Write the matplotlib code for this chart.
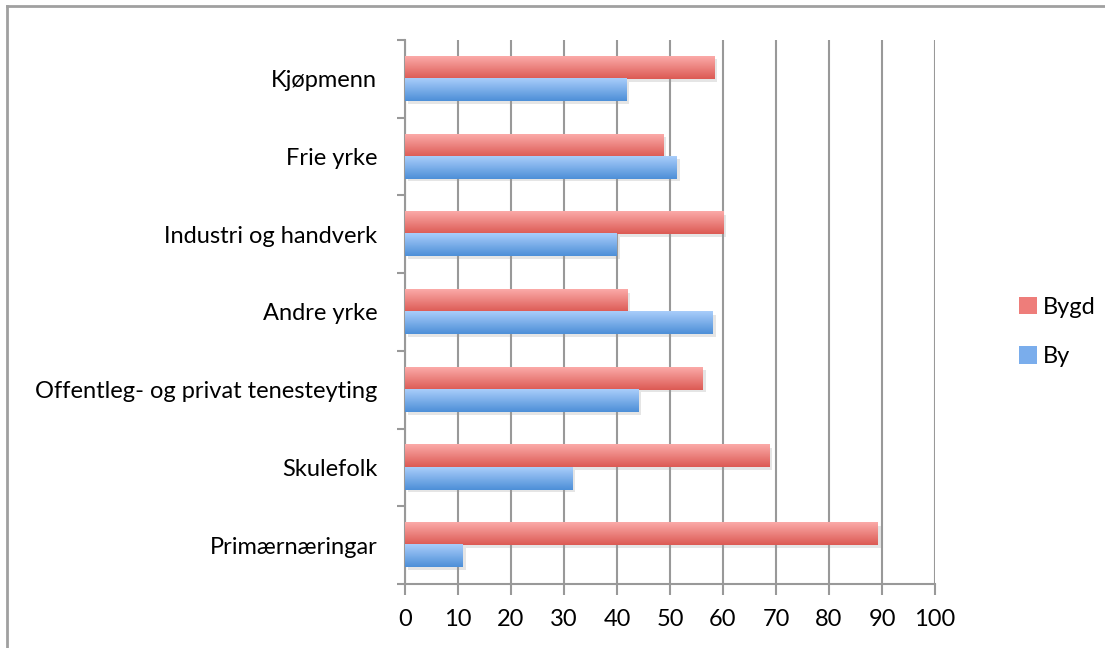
import numpy as np
import matplotlib.pyplot as plt
import matplotlib.patheffects as pe
from matplotlib.colors import LinearSegmentedColormap
from matplotlib.lines import Line2D
from matplotlib.patches import Rectangle

plt.rcParams['font.family'] = ['Lato', 'DejaVu Sans']

categories = ['Primærnæringar', 'Skulefolk', 'Offentleg- og privat tenesteyting',
              'Andre yrke', 'Industri og handverk', 'Frie yrke', 'Kjøpmenn']
bygd = [89.2, 68.7, 56.2, 42.0, 60.1, 48.8, 58.4]
by = [10.9, 31.6, 44.0, 58.1, 40.0, 51.3, 41.7]

red_top, red_bot = '#fbaaa8', '#dc5a54'
blue_top, blue_bot = '#a9cdfa', '#4d8fd8'

fig = plt.figure(figsize=(11.05, 6.48), dpi=100)
ax = fig.add_axes([405 / 1105, 1 - 584 / 648, 530 / 1105, 544 / 648])

y = np.arange(len(categories))
h = 0.285
bars_bygd = ax.barh(y + h / 2, bygd, height=h, color=red_bot, zorder=3)
bars_by = ax.barh(y - h / 2, by, height=h, color=blue_bot, zorder=3)

shadow = [pe.SimplePatchShadow(offset=(2, -2), shadow_rgbFace='#999999', alpha=0.25), pe.Normal()]


def grad(bars, top, bot):
    cmap = LinearSegmentedColormap.from_list('g', [bot, top])
    img = np.linspace(0, 1, 64).reshape(-1, 1)
    for b in bars:
        b.set_path_effects(shadow)
        x0, y0 = b.get_x(), b.get_y()
        w, hh = b.get_width(), b.get_height()
        ax.imshow(img, cmap=cmap, aspect='auto', origin='lower',
                  extent=(x0, x0 + w, y0, y0 + hh), zorder=4, interpolation='bilinear')


grad(bars_bygd, red_top, red_bot)
grad(bars_by, blue_top, blue_bot)

ax.set_xlim(0, 100)
ax.set_ylim(-0.5, len(categories) - 0.5)
ax.set_xticks(range(0, 101, 10))
ax.tick_params(axis='x', length=8, width=1.5, color='#999999', labelsize=17, pad=10)
ax.grid(axis='x', color='#999999', linewidth=1.5, zorder=0)

ax.set_yticks(np.arange(-0.5, len(categories), 1))
ax.set_yticklabels([])
ax.tick_params(axis='y', which='major', length=6, width=1.5, color='#999999')
ax.set_yticks(y, minor=True)
ax.set_yticklabels(categories, minor=True)
ax.tick_params(axis='y', which='minor', length=0, labelsize=17, pad=20)

for s in ['top', 'right']:
    ax.spines[s].set_visible(False)
for s in ['left', 'bottom']:
    ax.spines[s].set_color('#999999')
    ax.spines[s].set_linewidth(1.5)

handles = [Rectangle((0, 0), 1, 1, facecolor='#ee7d7a', edgecolor='none'),
           Rectangle((0, 0), 1, 1, facecolor='#7aadec', edgecolor='none')]
fig.legend(handles, ['Bygd', 'By'], loc='center left', bbox_to_anchor=(998 / 1105, 1 - 332 / 648),
           frameon=False, fontsize=17, handlelength=0.75, handleheight=0.75,
           handletextpad=0.25, labelspacing=1.2)

# outer border (top and left)
fig.add_artist(Line2D([7 / 1105, 1104 / 1105], [1 - 6 / 648, 1 - 6 / 648], color='#a0a0a0', lw=2))
fig.add_artist(Line2D([7 / 1105, 7 / 1105], [0, 1 - 6 / 648], color='#a0a0a0', lw=2))

fig.savefig('out.png', dpi=100)
